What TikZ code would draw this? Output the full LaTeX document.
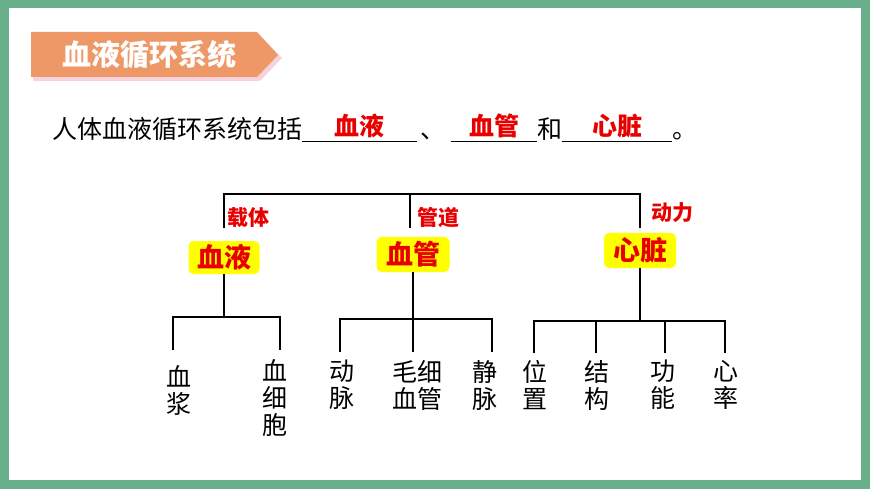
\documentclass[tikz,border=0pt]{standalone}
\usepackage{fontspec}
\setmainfont{Noto Sans CJK SC}
\usepackage{xcolor}
\usepackage{tikz}
\usetikzlibrary{positioning}

\definecolor{framegreen}{RGB}{106,175,140}
\definecolor{bannerorange}{RGB}{238,152,104}
\definecolor{bannershadow}{RGB}{246,210,220}
\definecolor{labelred}{RGB}{232,0,0}
\definecolor{boxyellow}{RGB}{255,255,0}

% blank with the answer written on it
\newcommand{\answer}[2]{\makebox[#1]{\raisebox{3pt}{\textcolor{labelred}{\bfseries #2}}}\llap{\rule[-3pt]{#1}{0.9pt}}}

\begin{document}
\begin{tikzpicture}[
    x=1pt, y=-1pt,
    every node/.style={inner sep=0pt, outer sep=0pt},
    tree/.style={line width=2.8pt},
    organ/.style={rectangle, rounded corners=5pt, fill=boxyellow, text=labelred,
      font=\fontsize{27}{32}\selectfont\bfseries, minimum width=71pt, minimum height=33pt},
    role/.style={text=labelred, font=\fontsize{21}{25}\selectfont\bfseries},
    leaf/.style={anchor=north, align=center, font=\fontsize{25}{27}\selectfont},
  ]
  \useasboundingbox (0,0) rectangle (870,489);

  % Frame
  \fill[framegreen] (0,0) rectangle (870,489);
  \fill[white] (9,8) rectangle (861,480);

  % Title banner
  \fill[bannershadow] (33,36) -- (260,36) -- (282,58) -- (260,81) -- (33,81) -- cycle;
  \fill[bannerorange] (31,32) -- (257,32) -- (278,55) -- (257,77) -- (31,77) -- cycle;
  \node[text=white, font=\fontsize{29}{34}\selectfont\bfseries] (title) at (149,55) {血液循环系统};

  % Sentence
  \node[anchor=base west, font=\fontsize{25}{30}\selectfont] (intro) at (52,139)
    {人体血液循环系统包括\answer{115pt}{血液}\hspace{4pt}、\hspace{5pt}\answer{86pt}{血管}和\answer{110pt}{心脏}。};

  % Organs
  \node[organ] (xueye) at (224,257.5) {血液};
  \node[organ, minimum width=73pt, minimum height=35pt] (xueguan) at (413,254.5) {血管};
  \node[organ, minimum width=72pt, minimum height=35pt] (xinzang) at (640,250.5) {心脏};

  % Roles
  \node[role] (zaiti) at (248,218) {载体};
  \node[role] (guandao) at (438,218) {管道};
  \node[role] (dongli) at (672,212.5) {动力};

  % Top bracket
  \coordinate (dropL) at (224,228);
  \coordinate (dropM) at (410,228);
  \coordinate (dropR) at (640,228);
  \coordinate (barR) at (640,194);
  \draw[tree] (dropL) |- (barR) -- (dropR);
  \draw[tree] (dropM) -- (dropM |- barR);

  % Leaves
  \node[leaf] (xuejiang) at (179,365) {血\\浆};
  \node[leaf] (xuexibao) at (275,359) {血\\细\\胞};
  \node[leaf] (dongmai) at (342,360) {动\\脉};
  \node[leaf] (maoxi) at (417,360) {毛细\\血管};
  \node[leaf] (jingmai) at (485,360) {静\\脉};
  \node[leaf] (weizhi) at (535,360) {位\\置};
  \node[leaf] (jiegou) at (597,360) {结\\构};
  \node[leaf] (gongneng) at (663,360) {功\\能};
  \node[leaf] (xinlv) at (726,360) {心\\率};

  % Blood branches
  \coordinate (joinL) at (224,317);
  \coordinate (endA) at (173,350);
  \coordinate (endB) at (280,350);
  \draw[tree] (xueye.south) -- (joinL);
  \draw[tree] (endA) |- (joinL) -| (endB);

  % Vessel branches
  \coordinate (joinM) at (413,319);
  \coordinate (endC) at (340,352);
  \coordinate (endD) at (413,352);
  \coordinate (endE) at (492,352);
  \draw[tree] (xueguan.south) -- (endD);
  \draw[tree] (endC) |- (joinM) -| (endE);

  % Heart branches
  \coordinate (joinR) at (640,321);
  \coordinate (endF) at (534,353);
  \coordinate (endG) at (596,353);
  \coordinate (endH) at (665,353);
  \coordinate (endI) at (725,353);
  \draw[tree] (xinzang.south) -- (joinR);
  \draw[tree] (endF) |- (joinR) -| (endI);
  \draw[tree] (endG) -- (endG |- joinR);
  \draw[tree] (endH) -- (endH |- joinR);

\end{tikzpicture}
\end{document}
